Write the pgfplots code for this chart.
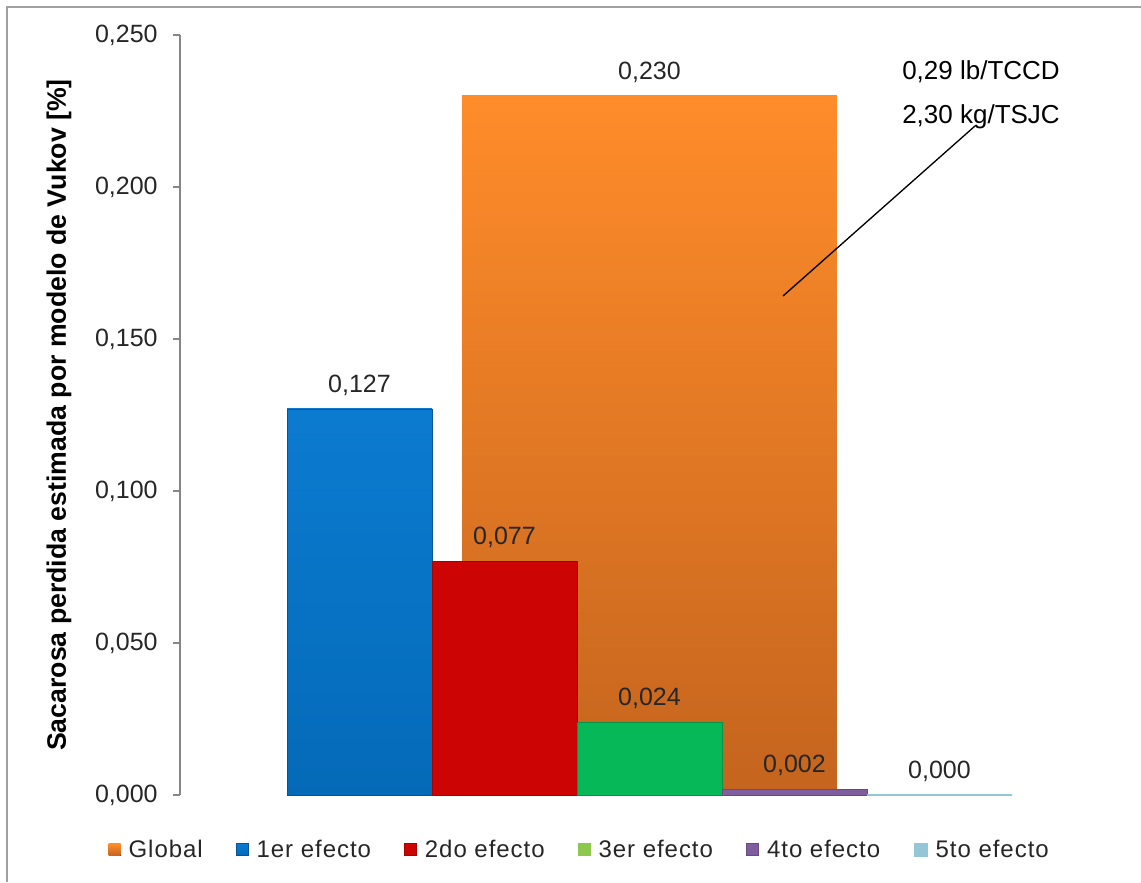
\documentclass[border=0pt]{standalone}
\usepackage{pgfplots}
\pgfplotsset{compat=1.18}
\usepackage{fontspec}
\setmainfont{Liberation Sans}
\newfontfamily\lgfont[LetterSpace=4]{Liberation Sans}
\definecolor{bordergray}{HTML}{A0A0A0}
\definecolor{axisgray}{HTML}{868686}
\definecolor{txt}{HTML}{262626}
\definecolor{globtop}{HTML}{FF8C2A}
\definecolor{globbot}{HTML}{C4641E}
\definecolor{c1top}{HTML}{0B7BD0}
\definecolor{c1bot}{HTML}{046AB8}
\definecolor{c2}{HTML}{CC0404}
\definecolor{c3}{HTML}{06B858}
\definecolor{c3leg}{HTML}{8CC84B}
\definecolor{c4}{HTML}{7E5E9E}
\definecolor{c5}{HTML}{93C6D6}
\pgfplotsset{
  sqlegend/.style={legend image code/.code={\fill[##1] (0pt,-4.5pt) rectangle (9pt,4.5pt);}},
  vallabel/.style={nodes near coords={\pgfmathprintnumber[fixed,fixed zerofill,precision=3,use comma,assume math mode=true]{\pgfplotspointmeta}},
    every node near coord/.append style={anchor=base,yshift=12.4pt,text=txt,font=\fontsize{18.75}{20}\selectfont}},
}
\begin{document}
\begin{tikzpicture}
\path[use as bounding box] (0,0) rectangle (855.75pt,661.5pt);
\draw[bordergray, line width=1.1pt] (5.25pt,0pt) -- (5.25pt,656.25pt) -- (855.75pt,656.25pt);
\begin{axis}[
  at={(135pt,65.25pt)}, anchor=south west,
  scale only axis, width=704.25pt, height=570pt,
  xmin=-0.238, xmax=6.238, ymin=0, ymax=0.25,
  axis x line=none, axis y line*=left,
  axis line style={-, axisgray, line width=0.9pt},
  xtick=\empty,
  ytick={0,0.05,0.1,0.15,0.2,0.25},
  scaled y ticks=false,
  tick align=outside, major tick length=5.25pt,
  tick style={axisgray, line width=0.9pt},
  yticklabel style={/pgf/number format/fixed, /pgf/number format/fixed zerofill,
    /pgf/number format/precision=3, /pgf/number format/use comma,
    /pgf/number format/assume math mode=true,
    font=\fontsize{18.75}{20}\selectfont, text=txt, xshift=-8pt},
  every axis y label/.style={at={(axis description cs:-0.129,0.5)}, anchor=center, rotate=90,
    font=\bfseries\fontsize{20}{24}\selectfont, text=black},
  ylabel={Sacarosa perdida estimada por modelo de Vukov [\%]},
  legend style={at={(0.426,-0.072)}, anchor=center, draw=none, fill=none,
    font=\lgfont\fontsize{18}{20}\selectfont, text=txt, legend columns=6,
    /tikz/every even column/.append style={column sep=23pt},
    /tikz/every odd column/.append style={column sep=4pt}},
  clip=false,
]
\addplot[ybar, bar width=2.586, bar shift=0pt, draw=none, top color=globtop, bottom color=globbot, sqlegend, vallabel]
  coordinates {(3,0.230)};
\addlegendentry{Global}
\addplot[ybar, bar width=1, bar shift=0pt, draw=c1bot!80!black, line width=0.4pt, top color=c1top, bottom color=c1bot, sqlegend, vallabel]
  coordinates {(1,0.127)};
\addlegendentry{1er efecto}
\addplot[ybar, bar width=1, bar shift=0pt, draw=c2!80!black, line width=0.4pt, fill=c2, sqlegend, vallabel]
  coordinates {(2,0.077)};
\addlegendentry{2do efecto}
\addplot[ybar, bar width=1, bar shift=0pt, draw=c3!80!black, line width=0.4pt, fill=c3, vallabel,
  legend image code/.code={\fill[c3leg] (0pt,-4.5pt) rectangle (9pt,4.5pt);}]
  coordinates {(3,0.024)};
\addlegendentry{3er efecto}
\addplot[ybar, bar width=1, bar shift=0pt, draw=c4!80!black, line width=0.6pt, fill=c4, sqlegend, vallabel]
  coordinates {(4,0.002)};
\addlegendentry{4to efecto}
\addplot[ybar, bar width=1, bar shift=0pt, draw=c5, line width=1.6pt, fill=c5, sqlegend, vallabel]
  coordinates {(5,0.000)};
\addlegendentry{5to efecto}
\end{axis}
\begin{scope}[x=0.75pt, y=-0.75pt, shift={(0pt,661.5pt)}]
\node[anchor=west, inner sep=0pt, font=\fontsize{19.5}{22}\selectfont] at (902,72) {0,29 lb/TCCD};
\node[anchor=west, inner sep=0pt, font=\fontsize{19.5}{22}\selectfont] at (902,117) {2,30 kg/TSJC};
\draw[line width=1pt] (975,126) -- (783,296);
\end{scope}
\end{tikzpicture}
\end{document}
